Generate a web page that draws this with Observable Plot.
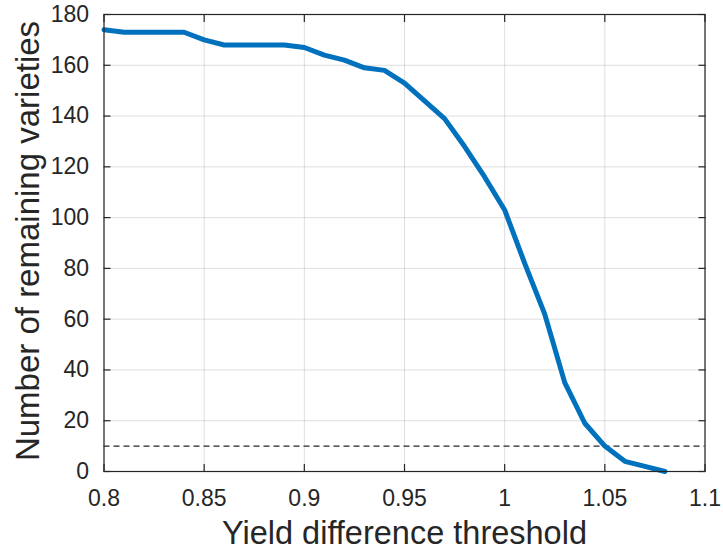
<!DOCTYPE html>
<html>
<head>
<meta charset="utf-8">
<script src="https://cdn.jsdelivr.net/npm/d3@7"></script>
<script src="https://cdn.jsdelivr.net/npm/@observablehq/plot@0.6"></script>
<style>
  body { margin: 0; background: #fff; }
</style>
</head>
<body>
<div id="chart"></div>
<script>
// ---- data ----
const thresholds = [0.80, 0.81, 0.82, 0.83, 0.84, 0.85, 0.86, 0.87, 0.88, 0.89,
                    0.90, 0.91, 0.92, 0.93, 0.94, 0.95, 0.96, 0.97, 0.98, 0.99,
                    1.00, 1.01, 1.02, 1.03, 1.04, 1.05, 1.06, 1.07, 1.08];
const remaining  = [174, 173, 173, 173, 173, 170, 168, 168, 168, 168,
                    167, 164, 162, 159, 158, 153, 146, 139, 128, 116,
                    103, 82, 62, 35, 19, 10, 4, 2, 0];
const cutoff = [10];
const xTicks = [0.8, 0.85, 0.9, 0.95, 1, 1.05, 1.1];
const xTickLabels = ["0.8", "0.85", "0.9", "0.95", "1", "1.05", "1.1"];
const yTicks = [0, 20, 40, 60, 80, 100, 120, 140, 160, 180];
const yTickLabels = ["0", "20", "40", "60", "80", "100", "120", "140", "160", "180"];
const xLabel = "Yield difference threshold";
const yLabel = "Number of remaining varieties";

const data = thresholds.map((x, i) => ({x, y: remaining[i]}));
const ink = "#262626";
const gridStyle = {stroke: ink, strokeOpacity: 0.15, strokeWidth: 1};

const chart = Plot.plot({
  width: 723,
  height: 550,
  marginLeft: 103.5,
  marginRight: 18.5,
  marginTop: 14,
  marginBottom: 79,
  style: {
    fontFamily: '"Liberation Sans", Arial, Helvetica, sans-serif',
    fontSize: "23px",
    color: ink,
    background: "#fff"
  },
  x: {domain: [0.8, 1.1]},
  y: {domain: [0, 180]},
  marks: [
    Plot.gridX(xTicks, gridStyle),
    Plot.gridY(yTicks, gridStyle),
    Plot.ruleY(cutoff, {stroke: ink, strokeWidth: 1.2, strokeDasharray: "6,4"}),
    Plot.line(data, {x: "x", y: "y", stroke: "#0072BD", strokeWidth: 5}),
    Plot.frame({stroke: ink, strokeWidth: 1.2}),
    // inward tick marks on all four sides
    Plot.axisX(xTicks, {anchor: "bottom", tickSize: -7, tickFormat: () => "", label: null, strokeWidth: 1.2}),
    Plot.axisX(xTicks, {anchor: "top", tickSize: -7, tickFormat: () => "", label: null, strokeWidth: 1.2}),
    Plot.axisY(yTicks, {anchor: "left", tickSize: -7, tickFormat: () => "", label: null, strokeWidth: 1.2}),
    Plot.axisY(yTicks, {anchor: "right", tickSize: -7, tickFormat: () => "", label: null, strokeWidth: 1.2}),
    // tick labels
    Plot.axisX(xTicks, {anchor: "bottom", tickSize: 0, tickPadding: 18.5, label: null, fontSize: 23,
      tickFormat: d => xTickLabels[xTicks.indexOf(d)]}),
    Plot.axisY(yTicks, {anchor: "left", tickSize: 0, tickPadding: 15, label: null, fontSize: 23,
      tickFormat: d => yTickLabels[yTicks.indexOf(d)]}),
    // axis titles
    Plot.text([xLabel], {text: d => d, frameAnchor: "bottom", textAnchor: "middle", lineAnchor: "middle",
      dy: 62.5, fontSize: 32.5}),
    Plot.text([yLabel], {text: d => d, frameAnchor: "left", textAnchor: "middle", lineAnchor: "middle",
      rotate: -90, dx: -76, dy: -2, fontSize: 33})
  ]
});
document.getElementById("chart").appendChild(chart);
</script>
</body>
</html>
